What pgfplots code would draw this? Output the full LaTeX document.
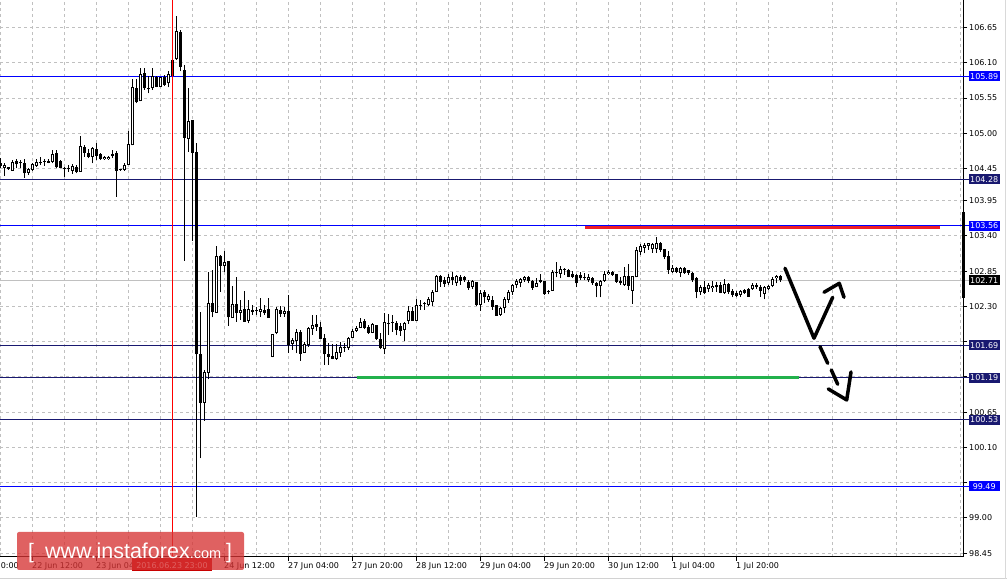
\documentclass[border=0pt]{standalone}
\usepackage{pgfplots}
\pgfplotsset{compat=1.18}
\usepackage{pgfplotstable}
\usepackage{fontspec}
\setmainfont{DejaVu Sans}
\newfontfamily\logofont{Liberation Sans}

\definecolor{lvblue}{RGB}{0,0,255}
\definecolor{lvnavy}{RGB}{25,25,112}
\definecolor{gridgray}{RGB}{192,192,192}
\definecolor{bidgray}{RGB}{192,192,192}
\definecolor{mtred}{RGB}{237,28,36}
\definecolor{mtgreen}{RGB}{34,177,76}
\definecolor{logored}{RGB}{214,52,52}
\definecolor{datered}{RGB}{200,0,0}

% H1 candles: bar index, open, high, low, close
\pgfplotstableread{
x o h l c
0 104.532 104.61 104.454 104.496
1 104.454 104.532 104.34 104.506
2 104.47 104.48 104.428 104.438
3 104.418 104.584 104.418 104.548
4 104.568 104.594 104.454 104.516
5 104.53 104.584 104.454 104.534
6 104.532 104.594 104.308 104.376
7 104.381 104.454 104.35 104.444
8 104.428 104.532 104.418 104.522
9 104.496 104.594 104.48 104.553
10 104.532 104.636 104.506 104.535
11 104.55 104.594 104.496 104.553
12 104.542 104.6 104.532 104.568
13 104.553 104.74 104.532 104.672
14 104.688 104.74 104.454 104.47
15 104.574 104.584 104.454 104.464
16 104.444 104.48 104.324 104.442
17 104.438 104.506 104.402 104.44
18 104.418 104.516 104.366 104.496
19 104.47 104.506 104.376 104.397
20 104.402 104.958 104.402 104.802
21 104.792 104.818 104.636 104.698
22 104.688 104.756 104.61 104.636
23 104.636 104.792 104.532 104.766
24 104.756 104.844 104.584 104.652
25 104.678 104.688 104.584 104.605
26 104.594 104.652 104.584 104.636
27 104.6 104.652 104.589 104.636
28 104.646 104.74 104.61 104.678
29 104.688 104.73 104.012 104.418
30 104.428 104.438 104.418 104.43
31 104.428 104.532 104.418 104.511
32 104.511 105.036 104.511 104.834
33 104.813 105.848 104.813 105.718
34 105.707 105.848 105.468 105.484
35 105.499 106.014 105.499 105.926
36 105.946 106.014 105.676 105.702
37 105.707 105.9 105.624 105.686
38 105.702 106.014 105.676 105.9
39 105.884 105.9 105.718 105.728
40 105.728 105.884 105.718 105.874
41 105.884 105.91 105.738 105.754
42 105.78 105.972 105.718 105.92
43 105.89 106.16 105.88 106.144
44 106.155 106.83 106.144 106.596
45 106.585 106.612 105.972 106.04
46 105.988 106.066 103.008 104.932
47 104.912 105.703 104.713 105.192
48 105.208 105.21 103.32 104.698
49 104.704 104.845 99.02 101.553
50 101.553 102.208 99.93 100.798
51 100.789 101.308 100.512 101.272
52 101.257 102.837 101.163 102.349
53 102.349 102.868 102.13 102.217
54 102.202 103.242 102.202 103.091
55 103.091 103.095 102.53 102.935
56 102.935 103.169 102.832 102.988
57 103.008 103.01 101.994 102.13
58 102.115 102.623 102.115 102.338
59 102.338 102.754 102.061 102.193
60 102.202 102.4 102.088 102.244
61 102.255 102.545 102.061 102.061
62 102.072 102.4 102.036 102.255
63 102.244 102.322 102.166 102.217
64 102.228 102.295 102.166 102.23
65 102.217 102.427 102.14 102.255
66 102.244 102.322 102.166 102.202
67 102.255 102.427 102.124 102.124
68 101.515 101.87 101.506 101.865
69 101.881 102.296 101.865 102.26
70 102.244 102.306 102.14 102.182
71 102.182 102.296 102.14 102.228
72 102.228 102.478 101.569 101.698
73 101.714 101.803 101.62 101.776
74 101.765 101.943 101.569 101.896
75 101.896 101.932 101.453 101.558
76 101.569 101.745 101.569 101.709
77 101.693 101.974 101.672 101.959
78 101.943 102.166 101.854 102.01
79 102.026 102.166 101.921 101.984
80 101.974 102.061 101.796 101.796
81 101.803 101.87 101.386 101.553
82 101.553 101.725 101.386 101.515
83 101.526 101.709 101.475 101.484
84 101.48 101.709 101.464 101.584
85 101.569 101.75 101.515 101.662
86 101.672 101.734 101.593 101.647
87 101.647 101.827 101.62 101.803
88 101.812 101.943 101.803 101.921
89 101.916 101.994 101.906 101.968
90 101.959 102.115 101.959 102.052
91 102.072 102.099 101.943 101.968
92 101.974 102.01 101.87 101.89
93 101.89 102.036 101.88 102.021
94 102.01 102.012 101.776 101.787
95 101.787 101.88 101.631 101.647
96 101.631 102.193 101.553 102.052
97 102.031 102.182 101.854 102.041
98 102.041 102.166 101.906 102.052
99 102.036 102.078 101.849 101.932
100 101.994 102.036 101.838 101.922
101 101.932 102.062 101.766 102.046
102 102.078 102.306 102.026 102.228
103 102.228 102.296 102.078 102.078
104 102.078 102.416 102.078 102.322
105 102.322 102.4 102.244 102.306
106 102.358 102.374 102.244 102.338
107 102.327 102.452 102.306 102.41
108 102.374 102.556 102.306 102.53
109 102.53 102.79 102.53 102.774
110 102.774 102.79 102.608 102.686
111 102.712 102.764 102.608 102.65
112 102.66 102.806 102.634 102.754
113 102.754 102.842 102.634 102.712
114 102.66 102.79 102.618 102.774
115 102.754 102.79 102.634 102.696
116 102.754 102.774 102.686 102.712
117 102.686 102.712 102.556 102.592
118 102.608 102.712 102.566 102.696
119 102.676 102.68 102.306 102.322
120 102.322 102.556 102.234 102.514
121 102.53 102.556 102.348 102.442
122 102.4 102.494 102.374 102.468
123 102.4 102.468 102.244 102.296
124 102.322 102.322 102.15 102.156
125 102.166 102.286 102.15 102.27
126 102.27 102.442 102.192 102.416
127 102.4 102.556 102.358 102.52
128 102.52 102.65 102.478 102.634
129 102.634 102.722 102.582 102.696
130 102.67 102.748 102.598 102.728
131 102.712 102.774 102.686 102.759
132 102.764 102.774 102.66 102.696
133 102.696 102.712 102.556 102.592
134 102.608 102.738 102.598 102.67
135 102.686 102.806 102.66 102.712
136 102.696 102.7 102.478 102.488
137 102.53 102.556 102.488 102.54
138 102.546 102.868 102.546 102.842
139 102.816 102.998 102.754 102.826
140 102.806 102.936 102.738 102.884
141 102.873 102.904 102.79 102.884
142 102.868 102.884 102.754 102.764
143 102.806 102.858 102.738 102.764
144 102.79 102.806 102.598 102.66
145 102.785 102.832 102.712 102.738
146 102.754 102.816 102.712 102.743
147 102.712 102.806 102.686 102.754
148 102.743 102.754 102.634 102.66
149 102.66 102.686 102.442 102.618
150 102.618 102.712 102.442 102.702
151 102.702 102.852 102.686 102.806
152 102.806 102.868 102.79 102.842
153 102.837 102.858 102.774 102.79
154 102.806 102.81 102.67 102.686
155 102.702 102.764 102.634 102.66
156 102.629 102.92 102.618 102.774
157 102.774 102.962 102.556 102.618
158 102.546 102.78 102.338 102.774
159 102.754 103.232 102.754 103.18
160 103.154 103.274 103.102 103.242
161 103.216 103.294 103.128 103.258
162 103.248 103.294 103.18 103.284
163 103.19 103.294 103.138 103.274
164 103.19 103.378 103.138 103.284
165 103.294 103.3 103.154 103.18
166 103.19 103.19 103.034 103.076
167 103.086 103.164 102.806 102.868
168 102.842 102.946 102.826 102.894
169 102.894 102.92 102.816 102.842
170 102.826 102.92 102.764 102.904
171 102.894 102.91 102.806 102.826
172 102.868 102.87 102.79 102.826
173 102.826 102.842 102.686 102.712
174 102.738 102.754 102.426 102.53
175 102.53 102.634 102.478 102.598
176 102.598 102.696 102.488 102.514
177 102.566 102.66 102.53 102.634
178 102.582 102.696 102.53 102.618
179 102.634 102.686 102.53 102.598
180 102.634 102.686 102.504 102.514
181 102.514 102.722 102.494 102.65
182 102.65 102.66 102.494 102.53
183 102.546 102.566 102.442 102.478
184 102.504 102.546 102.442 102.462
185 102.478 102.556 102.452 102.54
186 102.556 102.566 102.494 102.504
187 102.566 102.582 102.452 102.452
188 102.566 102.66 102.556 102.634
189 102.634 102.67 102.566 102.598
190 102.608 102.634 102.452 102.546
191 102.494 102.618 102.41 102.598
192 102.566 102.634 102.556 102.618
193 102.618 102.754 102.598 102.722
194 102.738 102.79 102.66 102.774
195 102.774 102.79 102.686 102.71
}\candles

\tikzset{pbox/.style={anchor=west, text=white, inner sep=0pt,
  minimum width=31pt, minimum height=10pt, font=\fontsize{8}{9}\selectfont}}

\begin{document}
\begin{tikzpicture}[x=1pt, y=1pt]
\begin{axis}[
  scale only axis, width=963pt, height=557pt,
  xmin=0, xmax=240.75, ymin=98.39, ymax=107.08,
  axis x line*=bottom, axis y line*=right,
  axis line style={black, line width=1pt, -},
  tick align=outside,
  major tick length=4pt, minor tick length=0pt,
  tick style={black, line width=0.8pt},
  xtick={8,24,40,56,72,88,104,120,136,152,168,184},
  xticklabels={22 Jun 12:00, 23 Jun 04:00, {}, 24 Jun 12:00, 27 Jun 04:00,
    27 Jun 20:00, 28 Jun 12:00, 29 Jun 04:00, 29 Jun 20:00, 30 Jun 12:00,
    1 Jul 04:00, 1 Jul 20:00},
  minor xtick={0,16,...,240},
  ytick={98.45,99.00,99.55,100.10,100.65,101.20,101.75,102.30,102.85,103.40,103.95,104.45,105.00,105.55,106.10,106.65},
  yticklabels={98.45,99.00,{},100.10,100.65,{},{},102.30,102.85,103.40,103.95,104.45,105.00,105.55,106.10,106.65},
  xmajorgrids, xminorgrids, ymajorgrids,
  grid style={gridgray, line width=0.8pt, dash pattern=on 3pt off 3pt},
  minor grid style={gridgray, line width=0.8pt, dash pattern=on 3pt off 3pt},
  ticklabel style={font=\fontsize{8}{9}\selectfont},
  xticklabel style={anchor=north west, inner sep=1pt, xshift=-1pt},
  yticklabel style={anchor=west, inner sep=1pt, xshift=1pt},
  clip=false,
]
% level lines
\addplot[lvblue, line width=1pt] coordinates {(0,105.89) (242.3,105.89)};
\addplot[lvnavy, line width=1pt] coordinates {(0,104.28) (242.3,104.28)};
\addplot[lvblue, line width=1pt] coordinates {(0,103.56) (242.3,103.56)};
\addplot[bidgray, line width=1pt] coordinates {(0,102.71) (242.3,102.71)};
\addplot[lvnavy, line width=1pt] coordinates {(0,101.69) (242.3,101.69)};
\addplot[lvnavy, line width=1pt] coordinates {(0,101.19) (242.3,101.19)};
\addplot[lvnavy, line width=1pt] coordinates {(0,100.53) (242.3,100.53)};
\addplot[lvblue, line width=1pt] coordinates {(0,99.49) (242.3,99.49)};

% candles: wicks, bodies, white inside of up candles
\addplot[draw=none, mark=none, error bars/.cd, y dir=plus, y explicit, error mark=none,
  error bar style={draw=black, line width=1pt, line cap=butt}]
  table[x=x, y=l, y error expr=\thisrow{h}-\thisrow{l}] {\candles};
\addplot[draw=none, mark=none, error bars/.cd, y dir=plus, y explicit, error mark=none,
  error bar style={draw=black, line width=3pt, line cap=butt}]
  table[x=x, y expr={min(\thisrow{o},\thisrow{c})},
    y error expr={max(abs(\thisrow{c}-\thisrow{o}),0.016)}] {\candles};
\addplot[draw=none, mark=none, restrict expr to domain={\thisrow{c}-\thisrow{o}}{0.035:10},
  error bars/.cd, y dir=plus, y explicit, error mark=none,
  error bar style={draw=white, line width=1pt, line cap=butt}]
  table[x=x, y expr={\thisrow{o}+0.0156},
    y error expr={\thisrow{c}-\thisrow{o}-0.0312}] {\candles};

% current price marker on the scale
\addplot[black, line width=3pt] coordinates {(240.95,103.773) (240.95,102.431)};
% vertical line at 2016.06.23 23:00
\addplot[red, line width=1pt] coordinates {(43.08,98.39) (43.08,107.08)};
% resistance / support marks
\addplot[mtred, line width=3pt] coordinates {(146.25,103.535) (235,103.535)};
\addplot[mtgreen, line width=3pt] coordinates {(89.25,101.195) (199.75,101.195)};
% hand-drawn scenario arrows
\addplot[black, line width=3.5pt, line cap=round, line join=round]
  coordinates {(196.25,102.895) (203.5,101.803) (208.175,102.442)};
\addplot[black, line width=3.5pt, line cap=round, line join=round]
  coordinates {(206,102.52) (209.825,102.66) (211,102.442)};
\addplot[black, line width=3.5pt, line cap=round]
  coordinates {(205,101.672) (206.925,101.412)};
\addplot[black, line width=3.5pt, line cap=round]
  coordinates {(207.825,101.308) (209.425,101.085)};
\addplot[black, line width=3.5pt, line cap=round, line join=round]
  coordinates {(207.075,101.012) (211.675,100.84) (212.75,101.277)};

\coordinate (b1) at (axis cs:240.75,105.89);
\coordinate (b2) at (axis cs:240.75,104.28);
\coordinate (b3) at (axis cs:240.75,103.56);
\coordinate (b4) at (axis cs:240.75,102.71);
\coordinate (b5) at (axis cs:240.75,101.69);
\coordinate (b6) at (axis cs:240.75,101.19);
\coordinate (b7) at (axis cs:240.75,100.53);
\coordinate (b8) at (axis cs:240.75,99.49);
\end{axis}

% price boxes on the scale
\node[pbox, fill=lvblue] at ([xshift=5.5pt]b1) {105.89};
\node[pbox, fill=lvnavy] at ([xshift=5.5pt]b2) {104.28};
\node[pbox, fill=lvblue] at ([xshift=5.5pt]b3) {103.56};
\node[pbox, fill=black] at ([xshift=5.5pt]b4) {102.71};
\node[pbox, fill=lvnavy] at ([xshift=5.5pt]b5) {101.69};
\node[pbox, fill=lvnavy] at ([xshift=5.5pt]b6) {101.19};
\node[pbox, fill=lvnavy] at ([xshift=5.5pt]b7) {100.53};
\node[pbox, fill=lvblue] at ([xshift=5.5pt]b8) {99.49};

% first date label (its left part is outside the window) and crosshair date label
\node[anchor=north east, inner sep=1pt, font=\fontsize{8}{9}\selectfont] at (20,-4) {20:00};
\fill[datered] (132,-1.5) rectangle (212,-14);
\node[text=white, inner sep=0pt, font=\fontsize{8}{9}\selectfont] at (172,-8.5) {2016.06.23 23:00};

% logo
\fill[logored, fill opacity=0.78, rounded corners=2pt] (17,-13) rectangle (244,25);
\node[anchor=base west, inner sep=0pt, text=white, font=\logofont\fontsize{21}{21}\selectfont] at (28,-1.5) {[};
\node[anchor=base west, inner sep=0pt, text=white, font=\logofont\fontsize{21.5}{21.5}\selectfont]
  at (45,-1.5) {www.instaforex{\fontsize{14.5}{14.5}\selectfont.com}};
\node[anchor=base west, inner sep=0pt, text=white, font=\logofont\fontsize{21}{21}\selectfont] at (226,-1.5) {]};

% window frame
\draw[gray!35, line width=1pt] (0,-22) -- (1007,-22);
\draw[gray!30, line width=1.5pt] (1005.5,557) -- (1005.5,-22);

\pgfresetboundingbox
\path[use as bounding box] (0,-26) rectangle (1007,557);
\end{tikzpicture}
\end{document}
